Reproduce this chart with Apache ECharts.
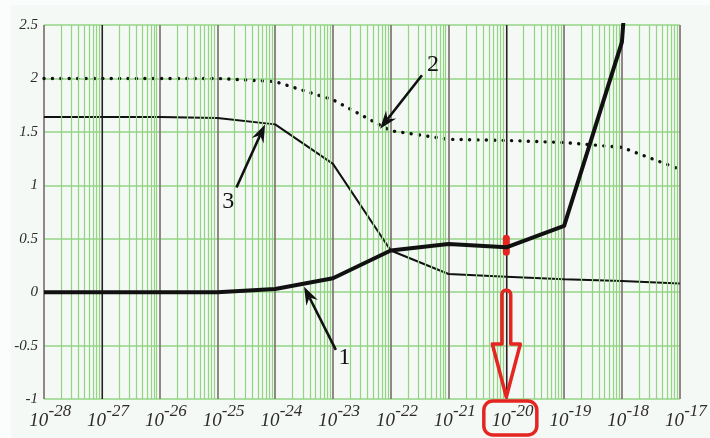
<!DOCTYPE html>
<html>
<head>
<meta charset="utf-8">
<script src="https://cdn.jsdelivr.net/npm/echarts@6/dist/echarts.min.js"></script>
<style>
  html, body { margin: 0; padding: 0; background: #ffffff; }
  #chart { width: 710px; height: 438px; }
</style>
</head>
<body>
<div id="chart"></div>
<script>
// Exponents of the decade ticks on the logarithmic axis (10^n)
const exps = [-28, -27, -26, -25, -24, -23, -22, -21, -20, -19, -18, -17];

// Curve 1 (thick solid)
const curve1 = [0, 0, 0, 0, 0.03, 0.13, 0.39, 0.45, 0.42, 0.62, 2.34, 9.7];
// Curve 2 (dotted)
const curve2 = [2.0, 2.0, 2.0, 2.0, 1.97, 1.80, 1.51, 1.43, 1.42, 1.40, 1.355, 1.15];
// Curve 3 (thin solid)
const curve3 = [1.64, 1.64, 1.64, 1.63, 1.57, 1.20, 0.39, 0.17, 0.145, 0.12, 0.105, 0.08];

// Vertical range
const yMin = -1, yMax = 2.5, yStep = 0.5;

// Highlighted decade
const markedExp = -20;

// Numbered callouts: arrow tip, arrow tail and number position (axis units)
const callouts = [
  { text: '1', tip: [-23.50, 0.05], tail: [-22.95, -0.54], label: [-22.80, -0.61] },
  { text: '2', tip: [-22.185, 1.53], tail: [-21.46, 2.03], label: [-21.27, 2.125] },
  { text: '3', tip: [-24.175, 1.57], tail: [-24.67, 0.98], label: [-24.81, 0.85] }
];

const INK = '#111111';
const TEXT = '#2f2b2b';
const GREEN = '#93d483';
const DECADE = '#857a7a';
const RED = '#e52521';
const SERIF = 'Liberation Serif';

// Minor log grid: 2..9 inside every decade
const minorXs = [];
for (let i = 0; i < exps.length - 1; i++) {
  for (let k = 2; k <= 9; k++) minorXs.push(exps[i] + Math.log10(k));
}

const pairs = arr => exps.map((x, i) => [x, arr[i]]);

// Numbered arrow: shaft, barbed head and the number
function renderCallout(params, api) {
  const c = callouts[api.value(2)];
  const t = api.coord(c.tip), s = api.coord(c.tail), l = api.coord(c.label);
  const dx = t[0] - s[0], dy = t[1] - s[1];
  const len = Math.hypot(dx, dy);
  const ux = dx / len, uy = dy / len;
  const nx = -uy, ny = ux;
  const L = 18, W = 6.5, N = 12;
  const back = [t[0] - ux * L, t[1] - uy * L];
  const notch = [t[0] - ux * N, t[1] - uy * N];
  return {
    type: 'group',
    children: [
      { type: 'line', shape: { x1: s[0], y1: s[1], x2: notch[0], y2: notch[1] },
        style: { stroke: INK, lineWidth: 2.6 } },
      { type: 'polygon',
        shape: { points: [t, [back[0] + nx * W, back[1] + ny * W], notch, [back[0] - nx * W, back[1] - ny * W]] },
        style: { fill: INK } },
      { type: 'text', x: l[0], y: l[1],
        style: { text: c.text, font: '24px "Liberation Serif"', fill: INK, align: 'center', verticalAlign: 'middle' } }
    ]
  };
}

// Hollow red arrow down to the highlighted decade and a frame round its tick label
function renderPointer(params, api) {
  const zeroPt = api.coord([api.value(0), 0]);
  const bottomPt = api.coord([api.value(0), yMin]);
  const cx = zeroPt[0];
  const hw = 4.4, arrowTop = zeroPt[1] - 2, shaftEnd = bottomPt[1] - 55, headW = 14, tipY = bottomPt[1] - 2;
  const outline = [];
  for (let a = 0; a <= 12; a++) {
    const ang = Math.PI + Math.PI * a / 12;
    outline.push([cx + hw * Math.cos(ang), arrowTop + hw + hw * Math.sin(ang)]);
  }
  outline.push([cx + hw, shaftEnd], [cx + headW, shaftEnd], [cx, tipY], [cx - headW, shaftEnd], [cx - hw, shaftEnd]);
  return {
    type: 'group',
    children: [
      { type: 'polygon', shape: { points: outline },
        style: { fill: null, stroke: RED, lineWidth: 3.5, lineJoin: 'round' } },
      { type: 'rect', shape: { x: cx - 22.5, y: bottomPt[1] + 2, width: 53, height: 34, r: 9 },
        style: { fill: null, stroke: RED, lineWidth: 3.5 } }
    ]
  };
}

const chart = echarts.init(document.getElementById('chart'), null, { renderer: 'canvas' });

chart.setOption({
  animation: false,
  backgroundColor: '#f4f9f5',
  grid: { left: 44, right: 21, top: 25, bottom: 39 },
  graphic: [
    { type: 'rect', shape: { x: 0, y: 0, width: 710, height: 5 }, style: { fill: '#fbfdfc' }, silent: true },
    { type: 'rect', shape: { x: 0, y: 0, width: 11, height: 438 }, style: { fill: '#fbfdfc' }, silent: true }
  ],
  xAxis: {
    type: 'value',
    min: exps[0],
    max: exps[exps.length - 1],
    interval: 1,
    axisLine: { show: false },
    axisTick: { show: false },
    splitLine: { show: true, lineStyle: { color: DECADE, width: 1.8 } },
    axisLabel: {
      margin: 8,
      padding: [0, 0, 0, 12.6],
      // exponent on a raised first line, base "10" on the second, offset so they read 10^n
      formatter: v => '{s|' + v + '}\n{b|10}',
      rich: {
        b: {
          fontFamily: SERIF, fontStyle: 'italic', fontSize: 19,
          color: TEXT, lineHeight: 9, padding: [0, 23, 0, 0]
        },
        s: {
          fontFamily: SERIF, fontStyle: 'italic', fontSize: 17,
          color: TEXT, lineHeight: 9, padding: [0, 0, 0, 19]
        }
      }
    }
  },
  yAxis: {
    type: 'value',
    min: yMin,
    max: yMax,
    interval: yStep,
    axisLine: { show: false },
    axisTick: { show: false },
    splitLine: { show: true, lineStyle: { color: GREEN, width: 1.6 } },
    axisLabel: {
      margin: 6,
      fontFamily: SERIF, fontStyle: 'italic', fontSize: 15,
      color: TEXT,
      formatter: v => String(v)
    }
  },
  series: [
    {
      // log-scale grid lines
      type: 'line',
      data: [],
      silent: true,
      markLine: {
        silent: true,
        animation: false,
        symbol: ['none', 'none'],
        label: { show: false },
        emphasis: { disabled: true },
        lineStyle: { color: GREEN, width: 1.2, type: 'solid' },
        data: minorXs.map(v => ({ xAxis: v })).concat([
          { xAxis: -27, lineStyle: { color: '#222222', width: 1.1, type: 'solid' } },
          { xAxis: markedExp, lineStyle: { color: '#222222', width: 1.1, type: 'solid' } }
        ])
      }
    },
    {
      name: '2',
      type: 'line',
      data: pairs(curve2),
      showSymbol: false,
      silent: true,
      clip: true,
      z: 4,
      lineStyle: { color: INK, width: 3.4, type: [0.1, 8.3], cap: 'round' }
    },
    {
      name: '3',
      type: 'line',
      data: pairs(curve3),
      showSymbol: false,
      silent: true,
      clip: true,
      z: 4,
      lineStyle: { color: INK, width: 2 }
    },
    {
      name: '1',
      type: 'line',
      data: pairs(curve1),
      showSymbol: false,
      silent: true,
      clip: true,
      z: 5,
      lineStyle: { color: INK, width: 4, join: 'round' },
      markPoint: {
        silent: true,
        animation: false,
        symbol: 'path://M0,3.5A3.5,3.5,0,0,1,7,3.5L7,17.5A3.5,3.5,0,0,1,0,17.5Z',
        symbolSize: [7, 21],
        symbolOffset: [0, -2],
        itemStyle: { color: RED },
        label: { show: false },
        data: [{ coord: [markedExp, curve1[exps.indexOf(markedExp)]] }]
      }
    },
    {
      type: 'custom',
      silent: true,
      clip: false,
      z: 10,
      renderItem: renderCallout,
      data: callouts.map((c, i) => [c.tip[0], c.tip[1], i])
    },
    {
      type: 'custom',
      silent: true,
      clip: false,
      z: 12,
      renderItem: renderPointer,
      data: [[markedExp, 0]]
    }
  ]
});
</script>
</body>
</html>
